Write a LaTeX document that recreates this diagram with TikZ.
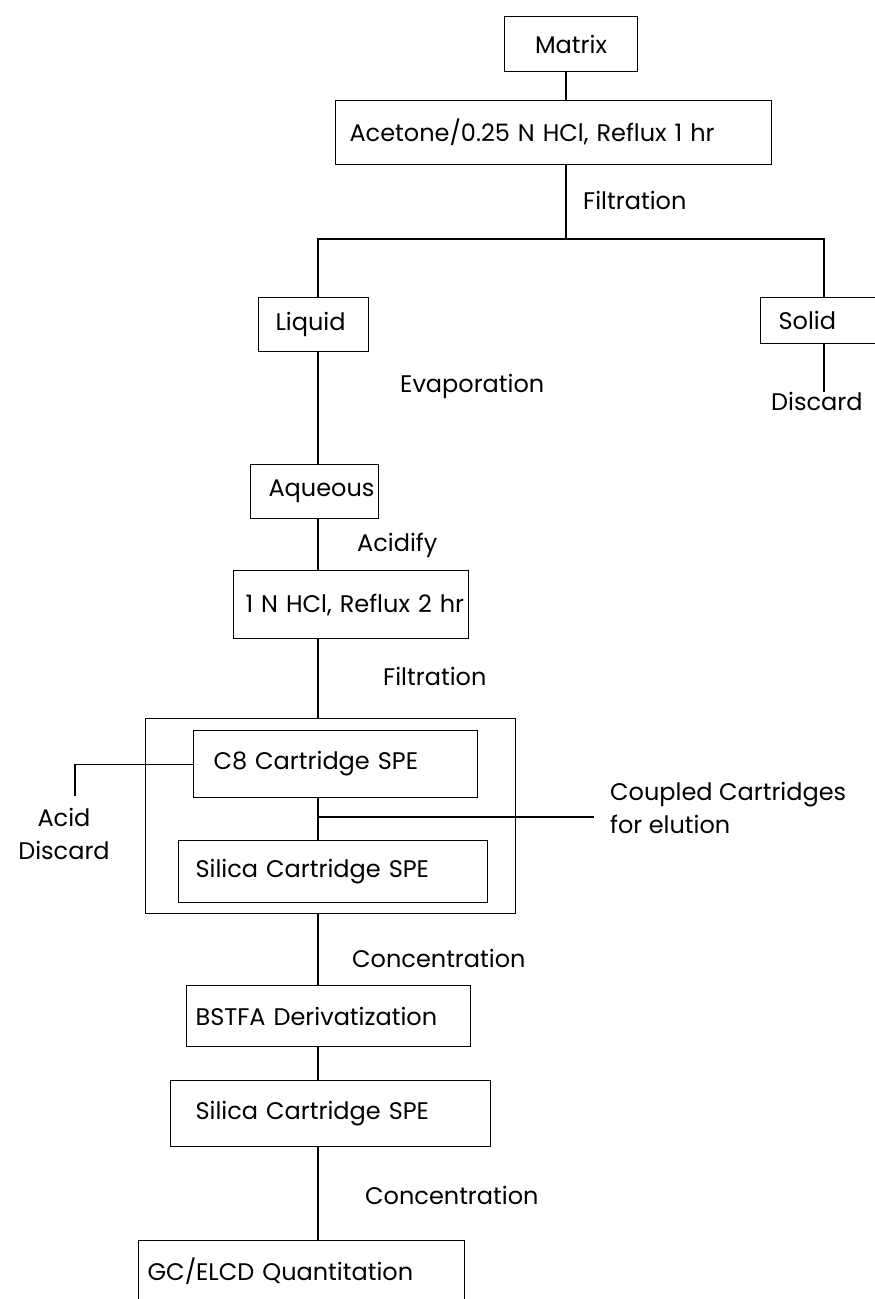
\documentclass[tikz,border=0pt]{standalone}
\usepackage{fontspec}
\setmainfont{Poppins}
\usetikzlibrary{positioning,calc}
\newcommand{\flow}{\fontsize{24}{33}\selectfont\hyphenpenalty=10000}

\begin{document}
\begin{tikzpicture}[x=1pt, y=-1pt,
  box/.style={draw, line width=1.1pt, align=left, font=\flow, inner ysep=0pt, anchor=north west},
  lab/.style={font=\flow, anchor=west, inner sep=0pt},
  ln/.style={line width=1.1pt}]
\useasboundingbox (0,0) rectangle (875,1299);
\coordinate (tp) at (566,0);
\coordinate (sp) at (318,0);
\coordinate (rx) at (824,0);
\coordinate (br) at (566,239);
\node[box, align=center, minimum width=133pt, minimum height=55pt] (matrix) at (504,16) {Matrix};
\node[box, inner xsep=14pt, text width=408pt, minimum height=64pt] (acetone) at (335,100) {Acetone/0.25 N HCl, Reflux 1 hr};
\node[lab] (filt1) at (583,200) {Filtration};
\node[box, inner xsep=17pt, text width=76pt, minimum height=54pt] (liquid) at (258,297) {Liquid};
\node[box, inner xsep=18pt, text width=104pt, minimum height=46pt] (solid) at (760,297) {Solid};
\node[lab] (disc) at (771,401) {Discard};
\node[lab] (evap) at (400,386) {Evaporation};
\node[box, inner xsep=18pt, text width=92pt, minimum height=54pt] (aqueous) at (250,464) {Aqueous};
\node[lab] (acid) at (357,545) {Acidify};
\node[box, inner xsep=12pt, text width=211pt, minimum height=68pt] (hcl) at (233,570) {\mbox{1 N HCl, Reflux 2 hr}};
\node[lab] (filt2) at (383,676) {Filtration};
\node[draw, line width=1.1pt, inner sep=0pt, minimum width=370pt, minimum height=195pt, anchor=north west] (grp) at (145,718) {};
\node[box, inner xsep=20pt, text width=244pt, minimum height=67pt] (cviii) at (193,730) {C8 Cartridge SPE};
\node[box, inner xsep=17pt, text width=275pt, minimum height=62pt] (sila) at (178,840) {Silica Cartridge SPE};
\node[lab, anchor=north, align=center] (acdisc) at (64,808) {Acid\\Discard};
\node[lab, align=left] (cpl) at (610,808) {Coupled Cartridges\\for elution};
\node[lab] (conc1) at (352,958) {Concentration};
\node[box, inner xsep=9pt, text width=266pt, minimum height=61pt] (bstfa) at (186,985) {BSTFA Derivatization};
\node[box, inner xsep=25pt, text width=270pt, minimum height=66pt] (silb) at (170,1080) {Silica Cartridge SPE};
\node[lab] (conc2) at (365,1195) {Concentration};
\node[box, inner xsep=9pt, text width=308pt, minimum height=62pt] (gc) at (138,1240) {GC/ELCD Quantitation};
\coordinate (acend) at (75,796);
\coordinate (cplend) at (594,817);
\draw[ln] (tp |- matrix.south) -- (tp |- acetone.north);
\draw[ln] (tp |- acetone.south) -- (br);
\draw[ln] (sp |- liquid.north) |- (br) -| (rx |- solid.north);
\draw[ln] (rx |- solid.south) -- (rx |- disc.north);
\foreach \a/\b in {liquid/aqueous,aqueous/hcl,hcl/grp,cviii/sila,grp/bstfa,bstfa/silb,silb/gc}
  \draw[ln] (sp |- \a.south) -- (sp |- \b.north);
\draw[ln] (sp |- cplend) -- (cplend);
\draw[ln] (cviii.west) -| (acend);
\end{tikzpicture}
\end{document}
